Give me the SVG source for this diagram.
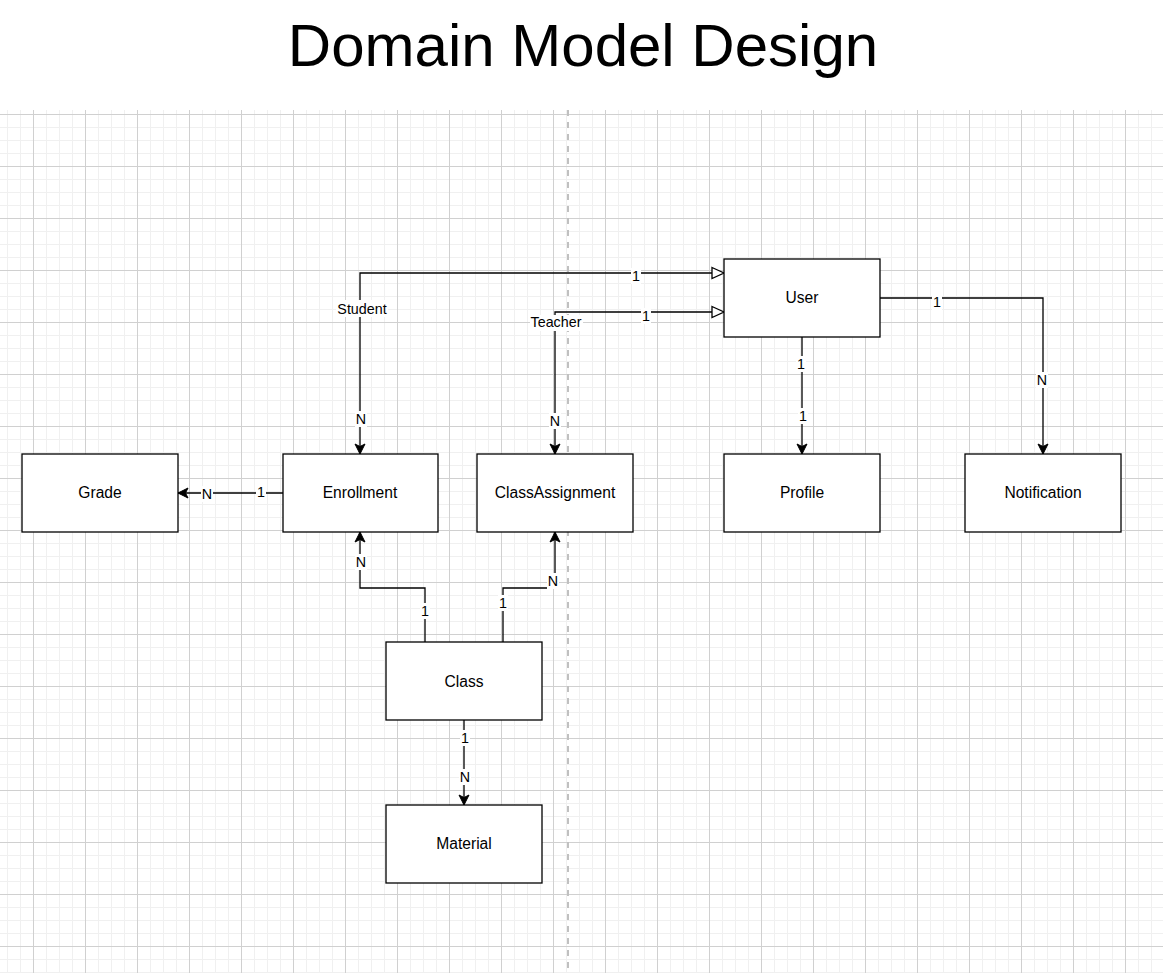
<svg xmlns="http://www.w3.org/2000/svg" width="1163" height="973" viewBox="0 0 1163 973">
<style>
.node rect{fill:#fff;stroke:#000;stroke-width:1.3}
.node text{font-family:"Liberation Sans",Arial,sans-serif;font-size:15.6px;text-anchor:middle;fill:#000}
.edge{fill:none;stroke:#000;stroke-width:1.3}
.lbl rect{fill:#fff}
.lbl text{font-family:"Liberation Sans",Arial,sans-serif;font-size:14.3px;text-anchor:middle;fill:#000}
</style>
<defs>
<pattern id="grid" patternUnits="userSpaceOnUse" x="33" y="114" width="52" height="52">
<rect x="0" y="0" width="52" height="52" fill="#fff"/>
<rect x="13" y="0" width="1" height="52" fill="#f0f0f0"/>
<rect x="26" y="0" width="1" height="52" fill="#f0f0f0"/>
<rect x="39" y="0" width="1" height="52" fill="#f0f0f0"/>
<rect x="0" y="13" width="52" height="1" fill="#f0f0f0"/>
<rect x="0" y="26" width="52" height="1" fill="#f0f0f0"/>
<rect x="0" y="39" width="52" height="1" fill="#f0f0f0"/>
<rect x="0" y="0" width="1" height="52" fill="#d0d0d0"/>
<rect x="0" y="0" width="52" height="1" fill="#d0d0d0"/>
</pattern>
<marker id="arr" markerUnits="userSpaceOnUse" viewBox="-11 -6 12 12" refX="0" refY="0" markerWidth="12" markerHeight="12" orient="auto-start-reverse" overflow="visible">
<path d="M0,0 L-10,-5 L-7.5,0 L-10,5 Z" fill="#000" stroke="#000" stroke-width="1"/>
</marker>
<marker id="tri" markerUnits="userSpaceOnUse" viewBox="-1 -7 14 14" refX="0" refY="0" markerWidth="14" markerHeight="14" orient="auto" overflow="visible">
<path d="M0,-5.5 L12,0 L0,5.5 Z" fill="#fff" stroke="#000" stroke-width="1.3"/>
</marker>
</defs>
<rect x="0" y="0" width="1163" height="973" fill="#fff"/>
<rect x="0" y="110" width="1163" height="863" fill="url(#grid)"/>
<line x1="568" y1="110" x2="568" y2="973" stroke="#c0c0c0" stroke-width="2" stroke-dasharray="6 6"/>
<text x="583" y="66" font-family="Liberation Sans,Arial,sans-serif" font-size="60" text-anchor="middle" fill="#000">Domain Model Design</text>

<g id="connectors">
<path class="edge" d="M360,454 L360,273 L712,273" marker-start="url(#arr)" marker-end="url(#tri)"/>
<path class="edge" d="M555,454 L555,312 L712,312" marker-start="url(#arr)" marker-end="url(#tri)"/>
<path class="edge" d="M283,493 L178,493" marker-end="url(#arr)"/>
<path class="edge" d="M425,642 L425,588 L360,588 L360,532" marker-end="url(#arr)"/>
<path class="edge" d="M503,642 L503,588 L555,588 L555,532" marker-end="url(#arr)"/>
<path class="edge" d="M464,720 L464,805" marker-end="url(#arr)"/>
<path class="edge" d="M802,337 L802,454" marker-end="url(#arr)"/>
<path class="edge" d="M880,298 L1043,298 L1043,454" marker-end="url(#arr)"/>
<g class="lbl">
<rect x="336" y="300" width="52" height="17"/><text x="362" y="314">Student</text>
<rect x="631" y="268" width="10" height="16"/><text x="636" y="281">1</text>
<rect x="355" y="411" width="12" height="16"/><text x="361" y="424">N</text>
<rect x="530" y="315" width="53" height="16"/><text x="556" y="327">Teacher</text>
<rect x="641" y="308" width="10" height="16"/><text x="646" y="321">1</text>
<rect x="549" y="413" width="12" height="16"/><text x="555" y="426">N</text>
<rect x="256" y="484" width="10" height="16"/><text x="261" y="497">1</text>
<rect x="201" y="486" width="12" height="16"/><text x="207" y="499">N</text>
<rect x="355" y="554" width="12" height="16"/><text x="361" y="567">N</text>
<rect x="420" y="603" width="10" height="16"/><text x="425" y="616">1</text>
<rect x="498" y="595" width="10" height="16"/><text x="503" y="608">1</text>
<rect x="547" y="573" width="12" height="16"/><text x="553" y="586">N</text>
<rect x="460" y="730" width="10" height="16"/><text x="465" y="743">1</text>
<rect x="459" y="769" width="12" height="16"/><text x="465" y="782">N</text>
<rect x="796" y="356" width="10" height="16"/><text x="801" y="369">1</text>
<rect x="798" y="408" width="10" height="16"/><text x="803" y="421">1</text>
<rect x="932" y="294" width="10" height="16"/><text x="937" y="307">1</text>
<rect x="1036" y="372" width="12" height="16"/><text x="1042" y="385">N</text>
</g>
</g>

<g id="node-user" class="node"><rect x="724" y="259" width="156" height="78"/><text x="802" y="303">User</text></g>
<g id="node-grade" class="node"><rect x="22" y="454" width="156" height="78"/><text x="100" y="498">Grade</text></g>
<g id="node-enrollment" class="node"><rect x="283" y="454" width="155" height="78"/><text x="360" y="498">Enrollment</text></g>
<g id="node-classassignment" class="node"><rect x="477" y="454" width="156" height="78"/><text x="555" y="498">ClassAssignment</text></g>
<g id="node-profile" class="node"><rect x="724" y="454" width="156" height="78"/><text x="802" y="498">Profile</text></g>
<g id="node-notification" class="node"><rect x="965" y="454" width="156" height="78"/><text x="1043" y="498">Notification</text></g>
<g id="node-class" class="node"><rect x="386" y="642" width="156" height="78"/><text x="464" y="687">Class</text></g>
<g id="node-material" class="node"><rect x="386" y="805" width="156" height="78"/><text x="464" y="849">Material</text></g>
</svg>
